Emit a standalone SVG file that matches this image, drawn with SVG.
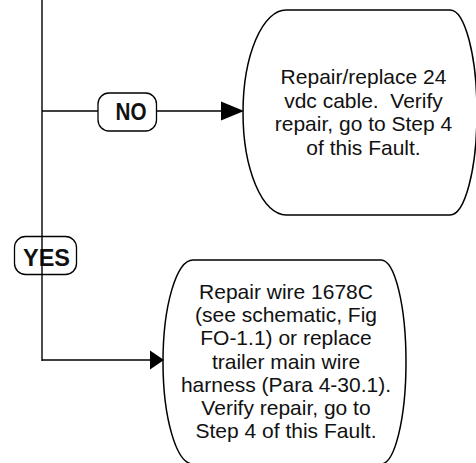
<svg xmlns="http://www.w3.org/2000/svg" width="476" height="463" viewBox="0 0 476 463">
<style>
.shape{fill:#fff;stroke:#000;stroke-width:1.5}
.lbl{fill:#fff;stroke:#000;stroke-width:1.3}
.line{fill:none;stroke:#000;stroke-width:1.4}
.head{fill:#000;stroke:none}
.body{font-family:"Liberation Sans",Arial,sans-serif;font-size:21px;fill:#111;text-anchor:middle;white-space:pre}
.lt{font-family:"Liberation Sans",Arial,sans-serif;font-size:23px;font-weight:bold;fill:#111;text-anchor:middle}
</style>
<g id="node-repair-cable">
<path class="shape" d="M286,10 H450 A27,102.5 0 0 1 450,215 H286 A43,102.5 0 0 1 286,10 Z"/>
<text class="body" xml:space="preserve"><tspan x="363.5" y="84">Repair/replace 24</tspan><tspan x="363.5" y="107.5">vdc cable.  Verify</tspan><tspan x="363.5" y="131">repair, go to Step 4</tspan><tspan x="363.5" y="154.5">of this Fault.</tspan></text>
</g>
<g id="node-repair-wire">
<path class="shape" d="M193,260 H381 A25,102 0 0 1 381,464 H193 A30,102 0 0 1 193,260 Z"/>
<text class="body"><tspan x="286" y="299">Repair wire 1678C</tspan><tspan x="286" y="322.2">(see schematic, Fig</tspan><tspan x="286" y="345.4">FO-1.1) or replace</tspan><tspan x="286" y="368.6">trailer main wire</tspan><tspan x="286" y="391.8">harness (Para 4-30.1).</tspan><tspan x="286" y="415">Verify repair, go to</tspan><tspan x="286" y="438.2">Step 4 of this Fault.</tspan></text>
</g>
<g id="label-no">
<rect class="lbl" x="98" y="93" width="58.5" height="38" rx="11" ry="11"/>
<text class="lt" x="131" y="120" textLength="31" lengthAdjust="spacingAndGlyphs">NO</text>
</g>
<g id="label-yes">
<rect class="lbl" style="fill:none" x="14.5" y="236.5" width="62" height="38" rx="11" ry="11"/>
<text class="lt" x="46.5" y="266" textLength="47" lengthAdjust="spacingAndGlyphs">YES</text>
</g>
<g id="connectors">
<line class="line" x1="42" y1="0" x2="42" y2="361"/>
<line class="line" x1="42" y1="111" x2="98" y2="111"/>
<line class="line" x1="156.5" y1="111" x2="222" y2="111"/>
<polygon class="head" points="221,101.5 244,111 221,120.5"/>
<line class="line" x1="42" y1="360" x2="151" y2="360"/>
<polygon class="head" points="150,350.5 164,360 150,369.5"/>
</g>
</svg>
